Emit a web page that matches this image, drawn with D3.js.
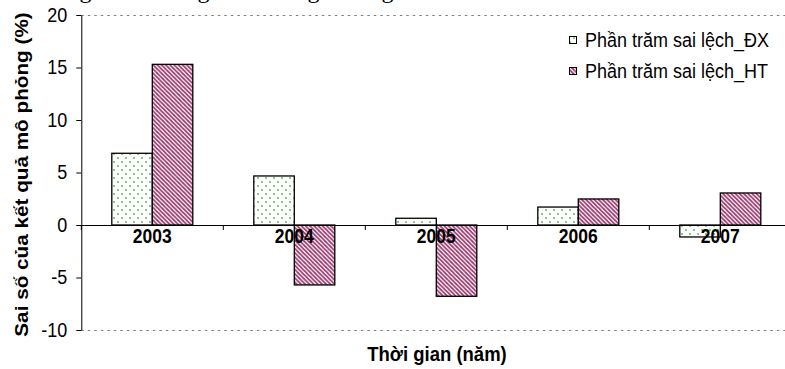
<!DOCTYPE html>
<html>
<head>
<meta charset="utf-8">
<script src="https://cdn.jsdelivr.net/npm/d3@7"></script>
<style>
  html, body { margin: 0; padding: 0; background: #fff; }
  svg { display: block; }
  text { font-family: Arial, "Liberation Sans", sans-serif; fill: #000; }
</style>
</head>
<body>
<svg id="chart" width="785" height="369"></svg>
<script>
// Years on the category axis
const years = ["2003", "2004", "2005", "2006", "2007"];
// Percentage error of the simulated results, per series
const dxValues = [6.83, 4.67, 0.64, 1.71, -1.14];
const htValues = [15.3, -5.71, -6.79, 2.48, 3.05];
const seriesNames = ["Phần trăm sai lệch_ĐX", "Phần trăm sai lệch_HT"];
// Value axis ticks
const yTicks = [-10, -5, 0, 5, 10, 15, 20];
// Body-text line running above the chart (only its descenders show)
const headerWords = ["trong", "những", "dòng", "đúng"];
const headerWordEnds = [91.5, 209.5, 319.5, 393.5];

(function () {
const svg = d3.select("#chart");
const plotLeft = 81.3, plotRight = 791.3, plotTop = 15, plotBottom = 330;
const stretch = 1.12; // glyphs are drawn slightly tall

// ---- patterns ----
const defs = svg.append("defs");
const dots = defs.append("pattern")
  .attr("id", "dots").attr("patternUnits", "userSpaceOnUse")
  .attr("width", 8).attr("height", 8);
dots.append("rect").attr("width", 8).attr("height", 8).attr("fill", "#fff");
[[2, 2], [6, 6]].forEach(([cx, cy]) =>
  dots.append("rect").attr("x", cx - 0.75).attr("y", cy - 0.75)
    .attr("width", 1.5).attr("height", 1.5).attr("fill", "#2fa030"));

const stripes = defs.append("pattern")
  .attr("id", "stripes").attr("patternUnits", "userSpaceOnUse")
  .attr("width", 4.2).attr("height", 4.2);
stripes.append("rect").attr("width", 4.2).attr("height", 4.2).attr("fill", "#fff");
stripes.append("path")
  .attr("d", "M-1,-1 L5.2,5.2 M-1,3.2 L1,5.2 M3.2,-1 L5.2,1")
  .attr("stroke", "#9a3a70").attr("stroke-width", 1.7);

const fills = ["url(#dots)", "url(#stripes)"];
const series = [dxValues, htValues];

// ---- scales ----
const x = d3.scaleBand().domain(years).range([plotLeft, plotRight]).padding(0);
const x1 = d3.scaleBand().domain([0, 1]).range([0, x.bandwidth()])
  .paddingInner(0).paddingOuter(0.753);
const y = d3.scaleLinear().domain([-10, 20]).range([plotBottom, plotTop]);

// ---- header text fragment ----
svg.append("g").selectAll("text").data(headerWords).join("text")
  .attr("x", (d, i) => headerWordEnds[i]).attr("y", -2.4)
  .attr("text-anchor", "end")
  .style("font-family", "'Liberation Serif', 'Times New Roman', serif")
  .style("font-size", "24px")
  .text(d => d);

// ---- plot area border (dotted) ----
const border = svg.append("g").attr("stroke", "#808080")
  .attr("stroke-width", 1).attr("stroke-dasharray", "2.5,4");
[20, -10].forEach(v => border.append("line")
  .attr("x1", plotLeft).attr("x2", plotRight)
  .attr("y1", Math.round(y(v)) + 0.5).attr("y2", Math.round(y(v)) + 0.5));

// ---- bars ----
const barG = svg.append("g");
series.forEach((vals, s) => {
  barG.append("g").selectAll("rect").data(vals).join("rect")
    .attr("x", (d, i) => x(years[i]) + x1(s))
    .attr("width", x1.bandwidth())
    .attr("y", d => y(Math.max(0, d)))
    .attr("height", d => Math.abs(y(d) - y(0)))
    .attr("fill", fills[s])
    .attr("stroke", "#000").attr("stroke-width", 1.3);
});

// ---- y axis ----
const yAxis = svg.append("g").attr("transform", `translate(${plotLeft},0)`)
  .call(d3.axisLeft(y).tickValues(yTicks).tickFormat(d => String(d))
    .tickSize(5).tickSizeOuter(0).tickPadding(9));
yAxis.select(".domain").attr("stroke", "#000");
yAxis.selectAll(".tick line").attr("stroke", "#000");
yAxis.selectAll(".tick text")
  .attr("fill", "#000")
  .style("font-size", "18px").style("font-family", "Arial, 'Liberation Sans', sans-serif")
  .attr("transform", `scale(1,${stretch})`);

// ---- x axis (category labels at centres, ticks at boundaries) ----
const xAxis = svg.append("g").attr("transform", `translate(0,${y(0)})`)
  .call(d3.axisBottom(x).tickSize(0).tickSizeOuter(0));
xAxis.select(".domain").attr("stroke", "#000");
xAxis.selectAll(".tick text")
  .attr("fill", "#000").attr("y", 0).attr("dy", 0)
  .style("font-size", "17.5px").style("font-weight", "bold")
  .style("font-family", "Arial, 'Liberation Sans', sans-serif")
  .attr("transform", `translate(0,18) scale(1,${stretch})`);
xAxis.append("g").selectAll("line")
  .data(years.concat(["end"])).join("line")
  .attr("x1", (d, i) => i < years.length ? x(d) : x(years[years.length - 1]) + x.bandwidth())
  .attr("x2", (d, i) => i < years.length ? x(d) : x(years[years.length - 1]) + x.bandwidth())
  .attr("y1", 0).attr("y2", 5).attr("stroke", "#000");

// ---- axis titles ----
svg.append("text")
  .attr("transform", `translate(28,${(plotTop + plotBottom) / 2 + 2}) rotate(-90) scale(${stretch},1)`)
  .attr("text-anchor", "middle")
  .style("font-size", "18.5px").style("font-weight", "bold")
  .text("Sai số của kết quả mô phỏng (%)");

svg.append("text")
  .attr("transform", `translate(437,361) scale(1,${stretch})`)
  .attr("text-anchor", "middle")
  .style("font-size", "18.5px").style("font-weight", "bold")
  .text("Thời gian (năm)");

// ---- legend ----
const legend = svg.append("g");
seriesNames.forEach((name, s) => {
  const cy = 40 + s * 31;
  legend.append("rect")
    .attr("x", 569.5).attr("y", cy - 3.5).attr("width", 7).attr("height", 7)
    .attr("fill", fills[s]).attr("stroke", "#000").attr("stroke-width", 1);
  legend.append("text")
    .attr("transform", `translate(585,${cy + 7}) scale(1,${stretch})`)
    .style("font-size", "18px")
    .text(name);
});
})();
</script>
</body>
</html>
